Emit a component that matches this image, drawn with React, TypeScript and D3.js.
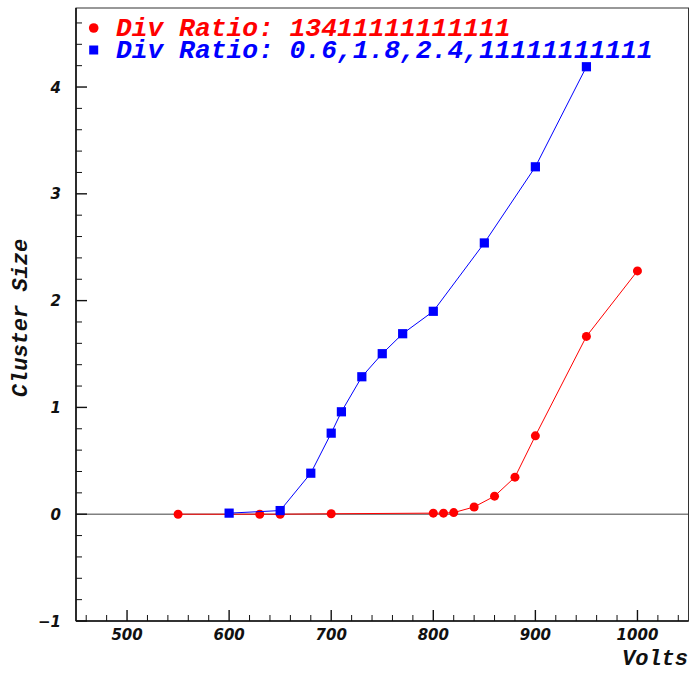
import * as d3 from "d3";

// red series: div ratio 13411111111111
const redVolts = [550, 630, 650, 700, 800, 810, 820, 840, 860, 880, 900, 950, 1000];
const redSize = [0, 0, 0, 0.004, 0.01, 0.01, 0.015, 0.068, 0.169, 0.347, 0.734, 1.665, 2.278];
// blue series: div ratio 0.6,1.8,2.4,11111111111
const blueVolts = [600, 650, 680, 700, 710, 730, 750, 770, 800, 850, 900, 950];
const blueSize = [0.01, 0.034, 0.384, 0.759, 0.959, 1.287, 1.503, 1.69, 1.9, 2.54, 3.253, 4.19];

const legendLabels = ["Div Ratio: 13411111111111", "Div Ratio: 0.6,1.8,2.4,11111111111"];
const xTicks = [500, 600, 700, 800, 900, 1000];
const yTicks = [-1, 0, 1, 2, 3, 4];

const W = 690;
const H = 673;
const left = 76, right = 688.5, top = 8, bottom = 621;
const RED = "#ff0000";
const BLUE = "#0000ff";
const labelFont = "'DejaVu Sans', sans-serif";
const titleFont = "'Liberation Mono', 'Courier New', monospace";

export default function App() {
  const x = d3.scaleLinear().domain([450, 1050]).range([left, right]);
  const y = d3.scaleLinear().domain([-1, 4.74]).range([bottom, top]);

  const redPts = redVolts.map((v, i) => [v, redSize[i]] as [number, number]);
  const bluePts = blueVolts.map((v, i) => [v, blueSize[i]] as [number, number]);
  const line = d3.line<[number, number]>().x(d => x(d[0])).y(d => y(d[1]));

  const xMinor = d3.range(460, 1050, 20).filter(v => v % 100 !== 0);
  const yMinor = d3.range(-10, 48, 2).map(v => v / 10).filter(v => !Number.isInteger(v));

  return (
    <svg width={W} height={H} style={{ position: "absolute", left: 0, top: 0, background: "#fff" }}>
      {/* zero line */}
      <line x1={left} x2={right} y1={y(0)} y2={y(0)} stroke="#808080" strokeWidth={1.6} />

      {/* frame */}
      <rect x={left} y={top} width={right - left} height={bottom - top} fill="none" stroke="#333" strokeWidth={1} />
      <line x1={left} x2={right} y1={bottom} y2={bottom} stroke="#111" strokeWidth={1.6} />
      <line x1={left} x2={left} y1={top} y2={bottom} stroke="#111" strokeWidth={1.6} />

      {/* x ticks */}
      {xTicks.map(t => (
        <g key={"xt" + t}>
          <line x1={x(t)} x2={x(t)} y1={bottom} y2={bottom - 11} stroke="#111" strokeWidth={1.4} />
          <text x={x(t)} y={639.5} textAnchor="middle" fontFamily={labelFont} fontWeight="bold"
            fontStyle="italic" fontSize={15} fill="#111">{t}</text>
        </g>
      ))}
      {xMinor.map(t => (
        <line key={"xm" + t} x1={x(t)} x2={x(t)} y1={bottom} y2={bottom - 6} stroke="#111" strokeWidth={1} />
      ))}

      {/* y ticks */}
      {yTicks.map(t => (
        <g key={"yt" + t}>
          <line x1={left} x2={left + 11} y1={y(t)} y2={y(t)} stroke="#111" strokeWidth={1.4} />
          <text x={61} y={y(t) + 5.5} textAnchor="end" fontFamily={labelFont} fontWeight="bold"
            fontStyle="italic" fontSize={15} fill="#111">{t < 0 ? "\u2212" + Math.abs(t) : t}</text>
        </g>
      ))}
      {yMinor.map(t => (
        <line key={"ym" + t} x1={left} x2={left + 6} y1={y(t)} y2={y(t)} stroke="#111" strokeWidth={1} />
      ))}

      {/* series */}
      <path d={line(redPts) || ""} fill="none" stroke={RED} strokeWidth={1} />
      {redPts.map((d, i) => (
        <circle key={"r" + i} cx={x(d[0])} cy={y(d[1])} r={4.5} fill={RED} />
      ))}
      <path d={line(bluePts) || ""} fill="none" stroke={BLUE} strokeWidth={1} />
      {bluePts.map((d, i) => (
        <rect key={"b" + i} x={x(d[0]) - 4.6} y={y(d[1]) - 4.6} width={9.2} height={9.2} fill={BLUE} />
      ))}

      {/* legend */}
      <circle cx={93.7} cy={28} r={4.8} fill={RED} />
      <text x={116} y={36} fontFamily={titleFont} fontWeight="bold" fontStyle="italic" fontSize={26.3} fill={RED}>
        {legendLabels[0]}
      </text>
      <rect x={89.2} y={45.5} width={9} height={9} fill={BLUE} />
      <text x={116} y={57.5} fontFamily={titleFont} fontWeight="bold" fontStyle="italic" fontSize={26.3} fill={BLUE}>
        {legendLabels[1]}
      </text>

      {/* axis titles */}
      <text x={688} y={665} textAnchor="end" fontFamily={titleFont} fontWeight="bold" fontStyle="italic"
        fontSize={22} fill="#111">Volts</text>
      <text transform="translate(27,318) rotate(-90)" textAnchor="middle" fontFamily={titleFont}
        fontWeight="bold" fontStyle="italic" fontSize={22} fill="#111">Cluster Size</text>
    </svg>
  );
}
